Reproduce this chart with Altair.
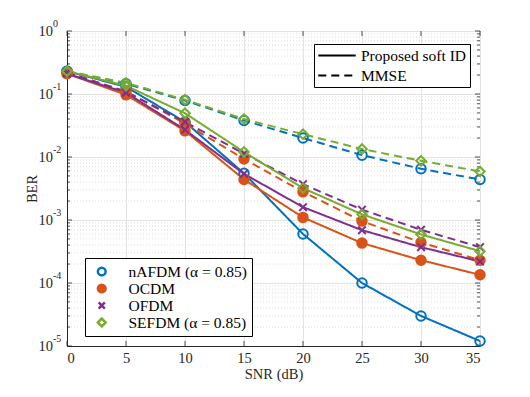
import altair as alt
import pandas as pd

snr = [0, 5, 10, 15, 20, 25, 30, 35]
schemes = ["nAFDM (α = 0.85)", "OCDM", "OFDM", "SEFDM (α = 0.85)"]
detectors = ["Proposed soft ID", "MMSE"]

nafdm_soft = [0.23, 0.13, 0.036, 0.0055, 6.0e-4, 1.0e-4, 3.0e-5, 1.2e-5]
nafdm_mmse = [0.23, 0.145, 0.079, 0.038, 0.020, 0.0107, 0.0065, 0.0044]
ocdm_soft = [0.21, 0.097, 0.026, 0.0044, 1.1e-3, 4.3e-4, 2.3e-4, 1.35e-4]
ocdm_mmse = [0.22, 0.11, 0.034, 0.0093, 2.8e-3, 9.6e-4, 4.4e-4, 2.3e-4]
ofdm_soft = [0.21, 0.105, 0.027, 0.0054, 1.6e-3, 6.9e-4, 3.7e-4, 2.2e-4]
ofdm_mmse = [0.22, 0.108, 0.036, 0.0113, 3.7e-3, 1.46e-3, 7.0e-4, 3.7e-4]
sefdm_soft = [0.23, 0.135, 0.0495, 0.012, 3.2e-3, 1.23e-3, 5.9e-4, 3.2e-4]
sefdm_mmse = [0.23, 0.15, 0.081, 0.040, 0.023, 0.0134, 0.0087, 0.0059]

series = {
    (schemes[0], detectors[0]): nafdm_soft,
    (schemes[0], detectors[1]): nafdm_mmse,
    (schemes[1], detectors[0]): ocdm_soft,
    (schemes[1], detectors[1]): ocdm_mmse,
    (schemes[2], detectors[0]): ofdm_soft,
    (schemes[2], detectors[1]): ofdm_mmse,
    (schemes[3], detectors[0]): sefdm_soft,
    (schemes[3], detectors[1]): sefdm_mmse,
}

decades = [1, 0.1, 0.01, 0.001, 0.0001, 0.00001]
exponents = ["0", "-1", "-2", "-3", "-4", "-5"]
minor_grid = [m * d for d in [0.1, 0.01, 0.001, 0.0001, 0.00001] for m in range(2, 10)]

rows = []
for (s, d), vals in series.items():
    for x, y in zip(snr, vals):
        rows.append({"snr": x, "ber": y, "scheme": s, "detector": d})
df = pd.DataFrame(rows)

colors = ["#0072BD", "#D95319", "#7E2F8E", "#77AC30"]
fills = ["transparent", "#D95319", "#7E2F8E", "transparent"]
xpath = "M-0.8,-0.8L0.8,0.8M-0.8,0.8L0.8,-0.8"
shapes = ["circle", "circle", xpath, "diamond"]

FONT = "Liberation Serif"
AX = "#262626"
W, H = 413, 315

xscale = alt.Scale(domain=[0, 35], nice=False)
yscale = alt.Scale(type="log", domain=[1e-5, 1], nice=False)

scheme_legend = alt.Legend(
    title=None, orient="none", legendX=18, legendY=227,
    labelFontSize=15.5, labelFont=FONT, labelColor="black",
    strokeColor="black", fillColor="white", padding=5, rowPadding=0,
    labelOffset=19, symbolStrokeWidth=2.5, symbolSize=60, clipHeight=17,
    symbolOffset=4,
)

minor = alt.Chart(pd.DataFrame({"v": minor_grid})).mark_rule(
    color="#d0d0d0", strokeDash=[1, 2], strokeWidth=0.7
).encode(y=alt.Y("v:Q", scale=yscale))

lines = alt.Chart(df).mark_line(strokeWidth=2).encode(
    x=alt.X("snr:Q", scale=xscale,
            axis=alt.Axis(values=snr, title="SNR (dB)", grid=True, ticks=False)),
    y=alt.Y("ber:Q", scale=yscale,
            axis=alt.Axis(values=decades, labels=False, title="BER", grid=True, ticks=False)),
    color=alt.Color("scheme:N", scale=alt.Scale(domain=schemes, range=colors), legend=scheme_legend),
    strokeDash=alt.StrokeDash(
        "detector:N",
        scale=alt.Scale(domain=detectors, range=[[1, 0], [8, 5]]),
        legend=alt.Legend(
            title=None, orient="none", legendX=247, legendY=13,
            symbolType="stroke", symbolStrokeColor="black", symbolStrokeWidth=2,
            symbolSize=1400, labelFontSize=15.5, labelFont=FONT, labelColor="black",
            strokeColor="black", fillColor="white", padding=3, rowPadding=3,
            labelOffset=4, clipHeight=17,
        ),
    ),
)

points = alt.Chart(df).mark_point(filled=False, strokeWidth=2, size=90, opacity=1).encode(
    x=alt.X("snr:Q", scale=xscale),
    y=alt.Y("ber:Q", scale=yscale),
    color=alt.Color("scheme:N", scale=alt.Scale(domain=schemes, range=colors), legend=scheme_legend),
    shape=alt.Shape("scheme:N", scale=alt.Scale(domain=schemes, range=shapes), legend=scheme_legend),
    fill=alt.Fill("scheme:N", scale=alt.Scale(domain=schemes, range=fills), legend=scheme_legend),
)

# inward ticks (MATLAB box style)
xt = pd.DataFrame({"v": snr})
yt = pd.DataFrame({"v": decades})
ym = pd.DataFrame({"v": minor_grid})
tick_style = dict(color=AX, strokeWidth=0.8)
xtick_b = alt.Chart(xt).mark_rule(**tick_style).encode(
    x=alt.X("v:Q", scale=xscale), y=alt.value(H), y2=alt.value(H - 5))
xtick_t = alt.Chart(xt).mark_rule(**tick_style).encode(
    x=alt.X("v:Q", scale=xscale), y=alt.value(0), y2=alt.value(5))
ytick_l = alt.Chart(yt).mark_rule(**tick_style).encode(
    y=alt.Y("v:Q", scale=yscale), x=alt.value(0), x2=alt.value(5))
ytick_r = alt.Chart(yt).mark_rule(**tick_style).encode(
    y=alt.Y("v:Q", scale=yscale), x=alt.value(W - 5), x2=alt.value(W))
ymin_l = alt.Chart(ym).mark_rule(**tick_style).encode(
    y=alt.Y("v:Q", scale=yscale), x=alt.value(0), x2=alt.value(3))
ymin_r = alt.Chart(ym).mark_rule(**tick_style).encode(
    y=alt.Y("v:Q", scale=yscale), x=alt.value(W - 3), x2=alt.value(W))

lab_df = pd.DataFrame({"v": decades, "e": exponents})
base_lab = alt.Chart(lab_df).mark_text(
    align="right", baseline="middle", font=FONT, fontSize=14.5, dx=-14, dy=1, color=AX
).encode(x=alt.value(0), y=alt.Y("v:Q", scale=yscale), text=alt.value("10"))
exp_lab = alt.Chart(lab_df).mark_text(
    align="left", baseline="middle", font=FONT, fontSize=10, dx=-14, dy=-7, color=AX
).encode(x=alt.value(0), y=alt.Y("v:Q", scale=yscale), text="e:N")

chart = alt.layer(
    minor, xtick_b, xtick_t, ytick_l, ytick_r, ymin_l, ymin_r,
    lines, points, base_lab, exp_lab
).properties(
    width=W, height=H,
    autosize=alt.AutoSizeParams(type="none"),
    padding={"left": 59, "top": 23, "right": 30, "bottom": 40},
).configure_view(stroke=AX, strokeWidth=1).configure_axis(
    labelFont=FONT, titleFont=FONT, labelFontSize=14.5, titleFontSize=14.5,
    titleFontWeight="normal", labelColor=AX, titleColor=AX,
    domainColor=AX, gridColor="#e3e3e3",
    labelPadding=5,
).configure_axisX(titlePadding=3).configure_axisY(titlePadding=28)

chart.save("out.html", embed_options={"renderer": "svg", "actions": False})
